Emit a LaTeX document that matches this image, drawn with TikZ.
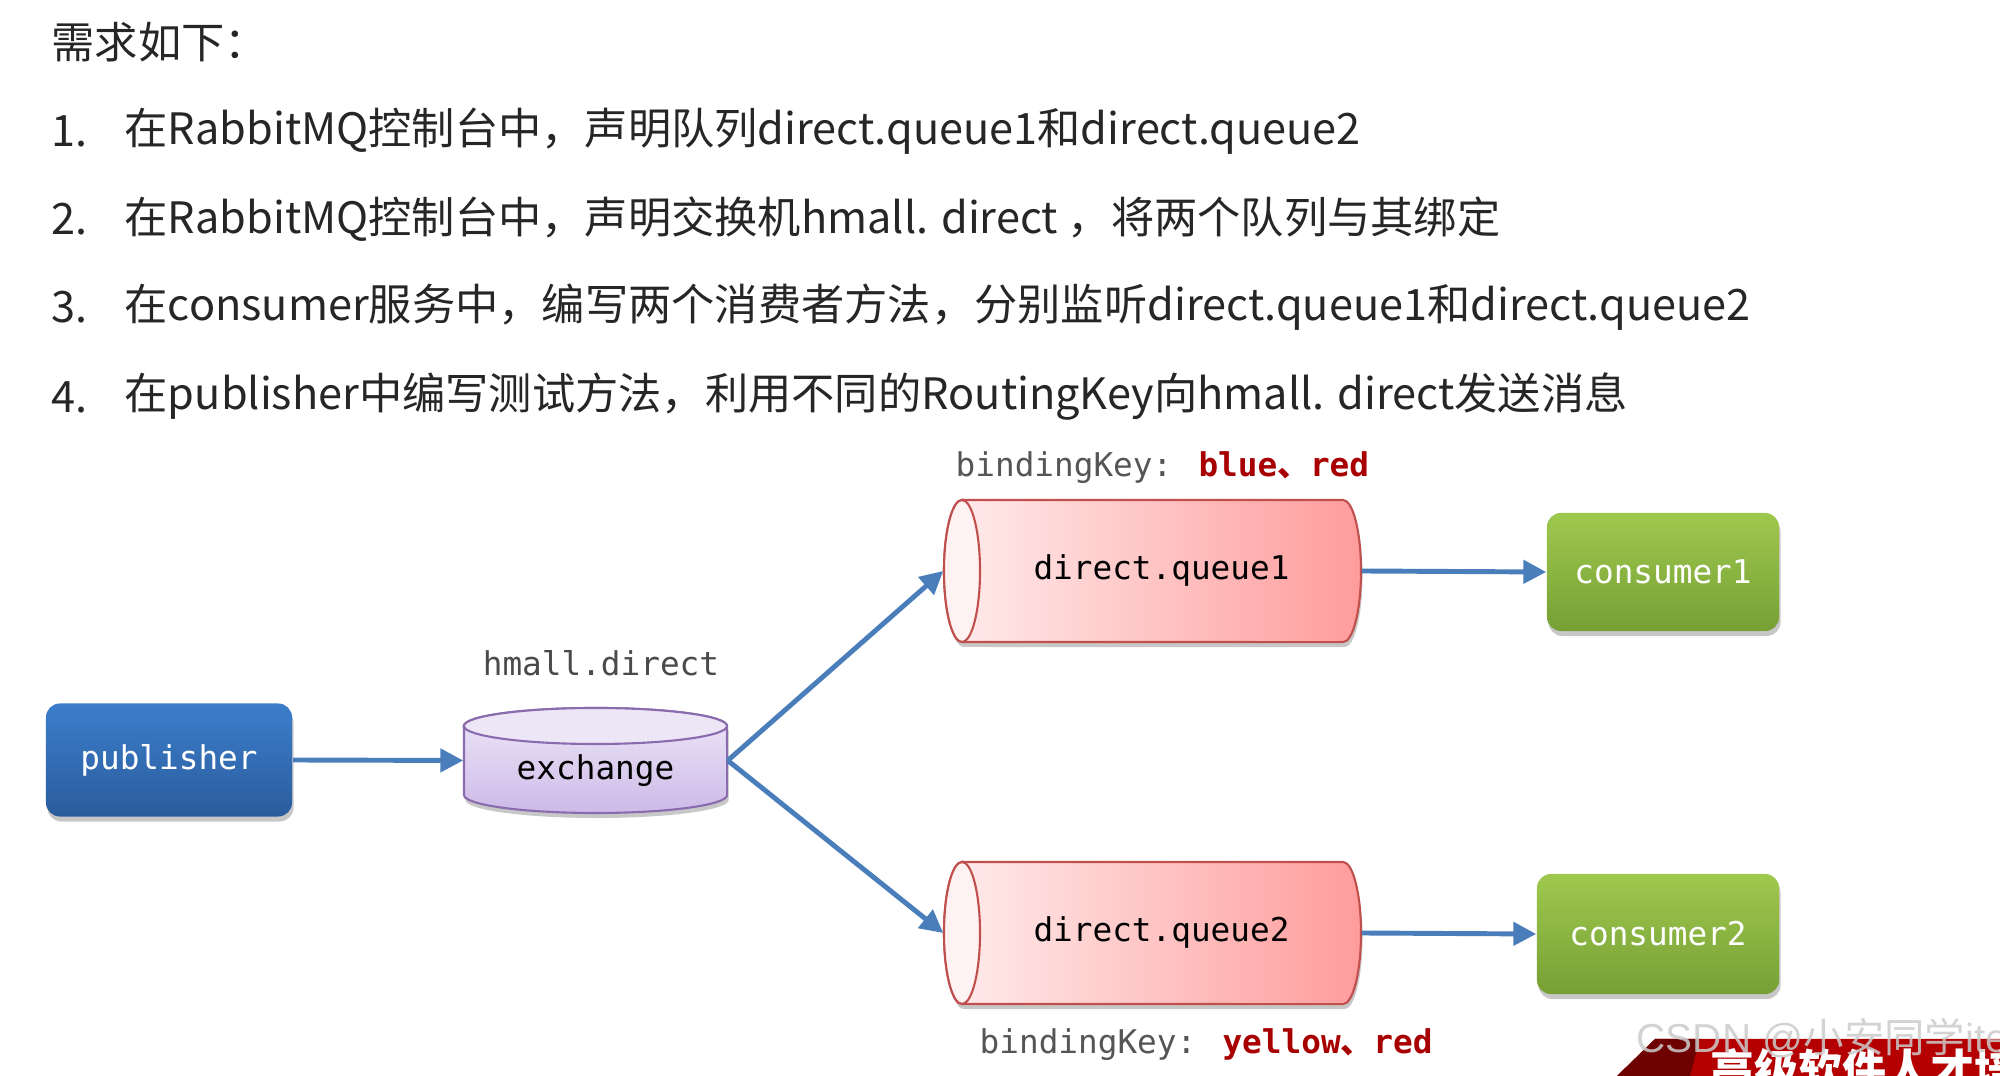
\documentclass[tikz,border=0pt]{standalone}
\usepackage{fontspec}
\newfontfamily\cjk{Noto Sans CJK SC}
\newfontfamily\mono{DejaVu Sans Mono}
\newfontfamily\wmfont{Liberation Sans}
\usetikzlibrary{arrows.meta,shadows}
\definecolor{txt}{HTML}{262626}
\definecolor{keygray}{HTML}{555555}
\definecolor{namegray}{HTML}{4A4A4A}
\definecolor{keyred}{HTML}{A80000}
\definecolor{pubtop}{HTML}{3C7ECC}
\definecolor{pubbot}{HTML}{2A5C9C}
\definecolor{contop}{HTML}{9FC84E}
\definecolor{conbot}{HTML}{76A035}
\definecolor{extop}{HTML}{EEE8F8}
\definecolor{exbot}{HTML}{CDBAE8}
\definecolor{exend}{HTML}{EDE6F7}
\definecolor{exline}{HTML}{8A6CAE}
\definecolor{qleft}{HTML}{FFEDED}
\definecolor{qright}{HTML}{FF9C9C}
\definecolor{qend}{HTML}{FFF2F2}
\definecolor{qline}{HTML}{C0504D}
\definecolor{arrowblue}{HTML}{4A7EBB}
\definecolor{bannerred}{HTML}{B40000}
\definecolor{bannerdark}{HTML}{6E0000}
\tikzset{
  toptext/.style={anchor=west, inner sep=0pt, text=txt, font=\cjk\fontsize{12.3}{15}\selectfont},
  monotext/.style={font=\mono\fontsize{9.3}{11}\selectfont},
  softshadow/.style={drop shadow={shadow xshift=0.015cm, shadow yshift=-0.05cm, opacity=0.22, fill=black}},
  pubbox/.style={monotext, text=white, rounded corners=0.14cm, top color=pubtop, bottom color=pubbot, softshadow},
  conbox/.style={monotext, text=white, rounded corners=0.14cm, top color=contop, bottom color=conbot, softshadow},
  shapelabel/.style={monotext, text=black, inner sep=0pt},
  keylabel/.style={monotext, anchor=west, inner sep=0pt, text=keygray},
  flow/.style={draw=arrowblue, line width=1.4pt, -{Triangle[length=6.5pt, width=6.5pt]}},
}
\begin{document}
\begin{tikzpicture}[x=0.01cm, y=0.01cm]
\useasboundingbox (0,0) rectangle (2000,1076);
\fill[white] (0,0) rectangle (2000,1076);

% ---- requirement text ----
\node[toptext] (head) at (51,1034) {需求如下：};
\node[toptext] (n1) at (51,945) {1.};
\node[toptext] (t1) at (124,945) {在RabbitMQ控制台中，声明队列direct.queue1和direct.queue2};
\node[toptext] (n2) at (51,857) {2.};
\node[toptext] (t2) at (124,857) {在RabbitMQ控制台中，声明交换机hmall. direct ，将两个队列与其绑定};
\node[toptext] (n3) at (51,769) {3.};
\node[toptext] (t3) at (124,769) {在consumer服务中，编写两个消费者方法，分别监听direct.queue1和direct.queue2};
\node[toptext] (n4) at (51,679) {4.};
\node[toptext] (t4) at (124,679) {在publisher中编写测试方法，利用不同的RoutingKey向hmall. direct发送消息};

% ---- exchange cylinder (vertical) ----
\path[top color=extop, bottom color=exbot, draw=exline, line width=0.6pt, softshadow]
  (464,350) -- (464,281) arc[start angle=180, end angle=360, x radius=1.315cm, y radius=0.18cm]
  -- (727,350) arc[start angle=0, end angle=180, x radius=1.315cm, y radius=0.18cm] -- cycle;
\path[fill=exend, draw=exline, line width=0.6pt] (595.5,350) ellipse[x radius=1.315cm, y radius=0.18cm];

% ---- queue cylinders (horizontal) ----
\foreach \cy in {505,143}{
  \path[left color=qleft, right color=qright, draw=qline, line width=0.6pt, softshadow]
    (962,\cy+71) -- (1343,\cy+71) arc[start angle=90, end angle=-90, x radius=0.18cm, y radius=0.71cm]
    -- (962,\cy-71) arc[start angle=270, end angle=90, x radius=0.18cm, y radius=0.71cm] -- cycle;
  \path[fill=qend, draw=qline, line width=0.6pt] (962,\cy) ellipse[x radius=0.18cm, y radius=0.71cm];
}

% ---- nodes ----
\node[pubbox, minimum width=2.46cm, minimum height=1.13cm] (pub) at (169,316) {publisher};
\node[shapelabel, minimum width=2.63cm, minimum height=1.05cm, text height=13pt, text depth=2.4pt] (ex) at (595.5,315.5) {exchange};
\node[shapelabel, text=namegray] (exname) at (601,413) {hmall.direct};
\node[shapelabel, minimum width=4.17cm, minimum height=1.42cm] (q1) at (1152.5,505) {\hspace*{0.18cm}direct.queue1};
\node[shapelabel, minimum width=4.17cm, minimum height=1.42cm] (q2) at (1152.5,143) {\hspace*{0.18cm}direct.queue2};
\node[conbox, minimum width=2.32cm, minimum height=1.18cm] (c1) at (1663,504) {consumer1};
\node[conbox, minimum width=2.42cm, minimum height=1.20cm] (c2) at (1658,142) {consumer2};
\node[keylabel] (k1) at (955,608) {bindingKey: {\color{keyred}\bfseries blue{\cjk\bfseries 、}red}};
\node[keylabel] (k2) at (979,31) {bindingKey: {\color{keyred}\bfseries yellow{\cjk\bfseries 、}red}};

% ---- connectors ----
\draw[flow] (pub.east) -- (ex.west);
\draw[flow] (ex.east) -- (q1.west);
\draw[flow] (ex.east) -- (q2.west);
\draw[flow] (q1.east) -- (c1.west);
\draw[flow] (q2.east) -- (c2.west);

% ---- banner and watermark ----
\begin{scope}
\clip (0,0) rectangle (2000,1076);
\fill[bannerred] (1617,0) -- (1655,37) -- (2000,37) -- (2000,0) -- cycle;
\fill[bannerdark] (1617,0) -- (1655,37) -- (1700,37) -- (1690,0) -- cycle;
\node[anchor=north west, inner sep=0pt, text=white, font=\cjk\bfseries\fontsize{12.5}{14}\selectfont] (banner) at (1710,28) {高级软件人才培};
\node[anchor=west, inner sep=0pt, text=gray!40, opacity=0.85, font=\wmfont\fontsize{11.5}{14}\selectfont] (wm) at (1636,38) {CSDN @{\cjk 小安同学}iter};
\end{scope}
\end{tikzpicture}
\end{document}
